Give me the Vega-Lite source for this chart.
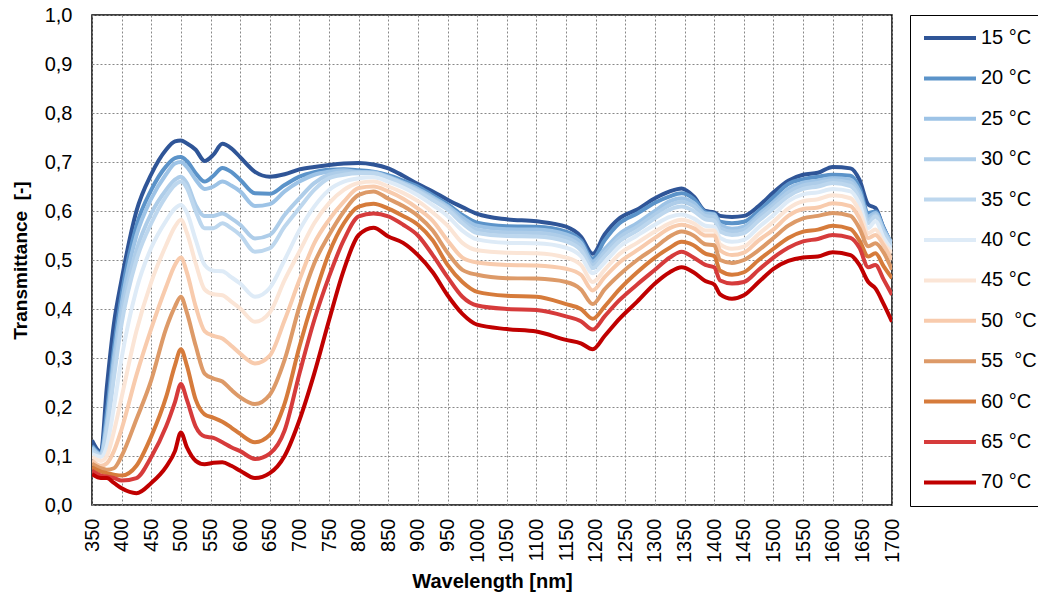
{
"$schema": "https://vega.github.io/schema/vega-lite/v6.json",
"width": 800, "height": 490,
"autosize": {"type": "none"},
"padding": {"left": 92, "top": 15, "right": 146, "bottom": 96},
"background": "white",
"config": {"font": "Liberation Sans", "view": {"stroke": "black", "strokeWidth": 1.5}},
"data": {"values": [
{"s":"15 °C","w":350,"t":0.132},{"s":"15 °C","w":365,"t":0.108},{"s":"15 °C","w":375,"t":0.24},{"s":"15 °C","w":387,"t":0.37},{"s":"15 °C","w":400,"t":0.46},{"s":"15 °C","w":425,"t":0.60},{"s":"15 °C","w":450,"t":0.675},{"s":"15 °C","w":475,"t":0.725},{"s":"15 °C","w":490,"t":0.742},{"s":"15 °C","w":500,"t":0.744},{"s":"15 °C","w":510,"t":0.738},{"s":"15 °C","w":525,"t":0.725},{"s":"15 °C","w":540,"t":0.702},{"s":"15 °C","w":555,"t":0.715},{"s":"15 °C","w":570,"t":0.737},{"s":"15 °C","w":585,"t":0.728},{"s":"15 °C","w":600,"t":0.71},{"s":"15 °C","w":625,"t":0.68},{"s":"15 °C","w":650,"t":0.67},{"s":"15 °C","w":675,"t":0.675},{"s":"15 °C","w":700,"t":0.685},{"s":"15 °C","w":725,"t":0.69},{"s":"15 °C","w":750,"t":0.694},{"s":"15 °C","w":775,"t":0.697},{"s":"15 °C","w":800,"t":0.698},{"s":"15 °C","w":825,"t":0.695},{"s":"15 °C","w":850,"t":0.687},{"s":"15 °C","w":875,"t":0.672},{"s":"15 °C","w":900,"t":0.655},{"s":"15 °C","w":925,"t":0.64},{"s":"15 °C","w":950,"t":0.623},{"s":"15 °C","w":975,"t":0.608},{"s":"15 °C","w":1000,"t":0.594},{"s":"15 °C","w":1050,"t":0.583},{"s":"15 °C","w":1100,"t":0.579},{"s":"15 °C","w":1150,"t":0.568},{"s":"15 °C","w":1175,"t":0.548},{"s":"15 °C","w":1195,"t":0.513},{"s":"15 °C","w":1215,"t":0.552},{"s":"15 °C","w":1240,"t":0.585},{"s":"15 °C","w":1270,"t":0.603},{"s":"15 °C","w":1300,"t":0.626},{"s":"15 °C","w":1325,"t":0.64},{"s":"15 °C","w":1345,"t":0.646},{"s":"15 °C","w":1365,"t":0.63},{"s":"15 °C","w":1385,"t":0.60},{"s":"15 °C","w":1400,"t":0.597},{"s":"15 °C","w":1410,"t":0.59},{"s":"15 °C","w":1430,"t":0.588},{"s":"15 °C","w":1450,"t":0.59},{"s":"15 °C","w":1475,"t":0.61},{"s":"15 °C","w":1500,"t":0.638},{"s":"15 °C","w":1525,"t":0.662},{"s":"15 °C","w":1550,"t":0.674},{"s":"15 °C","w":1575,"t":0.678},{"s":"15 °C","w":1600,"t":0.69},{"s":"15 °C","w":1630,"t":0.687},{"s":"15 °C","w":1645,"t":0.664},{"s":"15 °C","w":1660,"t":0.613},{"s":"15 °C","w":1672,"t":0.606},{"s":"15 °C","w":1686,"t":0.565},{"s":"15 °C","w":1700,"t":0.531},
{"s":"20 °C","w":350,"t":0.121},{"s":"20 °C","w":365,"t":0.105},{"s":"20 °C","w":375,"t":0.19},{"s":"20 °C","w":387,"t":0.32},{"s":"20 °C","w":400,"t":0.43},{"s":"20 °C","w":425,"t":0.57},{"s":"20 °C","w":450,"t":0.643},{"s":"20 °C","w":475,"t":0.691},{"s":"20 °C","w":490,"t":0.708},{"s":"20 °C","w":500,"t":0.71},{"s":"20 °C","w":510,"t":0.702},{"s":"20 °C","w":525,"t":0.677},{"s":"20 °C","w":540,"t":0.66},{"s":"20 °C","w":555,"t":0.672},{"s":"20 °C","w":570,"t":0.688},{"s":"20 °C","w":585,"t":0.68},{"s":"20 °C","w":600,"t":0.664},{"s":"20 °C","w":625,"t":0.636},{"s":"20 °C","w":650,"t":0.635},{"s":"20 °C","w":675,"t":0.653},{"s":"20 °C","w":700,"t":0.67},{"s":"20 °C","w":725,"t":0.679},{"s":"20 °C","w":750,"t":0.684},{"s":"20 °C","w":775,"t":0.685},{"s":"20 °C","w":800,"t":0.683},{"s":"20 °C","w":825,"t":0.68},{"s":"20 °C","w":850,"t":0.673},{"s":"20 °C","w":875,"t":0.662},{"s":"20 °C","w":900,"t":0.65},{"s":"20 °C","w":925,"t":0.632},{"s":"20 °C","w":950,"t":0.614},{"s":"20 °C","w":975,"t":0.592},{"s":"20 °C","w":1000,"t":0.576},{"s":"20 °C","w":1050,"t":0.569},{"s":"20 °C","w":1100,"t":0.568},{"s":"20 °C","w":1150,"t":0.558},{"s":"20 °C","w":1175,"t":0.54},{"s":"20 °C","w":1195,"t":0.503},{"s":"20 °C","w":1215,"t":0.54},{"s":"20 °C","w":1240,"t":0.575},{"s":"20 °C","w":1270,"t":0.595},{"s":"20 °C","w":1300,"t":0.617},{"s":"20 °C","w":1325,"t":0.63},{"s":"20 °C","w":1345,"t":0.636},{"s":"20 °C","w":1365,"t":0.625},{"s":"20 °C","w":1385,"t":0.598},{"s":"20 °C","w":1400,"t":0.594},{"s":"20 °C","w":1410,"t":0.578},{"s":"20 °C","w":1430,"t":0.575},{"s":"20 °C","w":1450,"t":0.578},{"s":"20 °C","w":1475,"t":0.6},{"s":"20 °C","w":1500,"t":0.628},{"s":"20 °C","w":1525,"t":0.655},{"s":"20 °C","w":1550,"t":0.665},{"s":"20 °C","w":1575,"t":0.67},{"s":"20 °C","w":1600,"t":0.674},{"s":"20 °C","w":1630,"t":0.672},{"s":"20 °C","w":1645,"t":0.648},{"s":"20 °C","w":1660,"t":0.596},{"s":"20 °C","w":1672,"t":0.599},{"s":"20 °C","w":1686,"t":0.565},{"s":"20 °C","w":1700,"t":0.528},
{"s":"25 °C","w":350,"t":0.118},{"s":"25 °C","w":365,"t":0.103},{"s":"25 °C","w":375,"t":0.17},{"s":"25 °C","w":387,"t":0.30},{"s":"25 °C","w":400,"t":0.41},{"s":"25 °C","w":425,"t":0.55},{"s":"25 °C","w":450,"t":0.625},{"s":"25 °C","w":475,"t":0.675},{"s":"25 °C","w":490,"t":0.697},{"s":"25 °C","w":500,"t":0.70},{"s":"25 °C","w":510,"t":0.69},{"s":"25 °C","w":525,"t":0.664},{"s":"25 °C","w":540,"t":0.645},{"s":"25 °C","w":555,"t":0.65},{"s":"25 °C","w":570,"t":0.66},{"s":"25 °C","w":585,"t":0.652},{"s":"25 °C","w":600,"t":0.64},{"s":"25 °C","w":625,"t":0.61},{"s":"25 °C","w":650,"t":0.614},{"s":"25 °C","w":675,"t":0.64},{"s":"25 °C","w":700,"t":0.66},{"s":"25 °C","w":725,"t":0.674},{"s":"25 °C","w":750,"t":0.68},{"s":"25 °C","w":775,"t":0.683},{"s":"25 °C","w":800,"t":0.68},{"s":"25 °C","w":825,"t":0.679},{"s":"25 °C","w":850,"t":0.67},{"s":"25 °C","w":875,"t":0.658},{"s":"25 °C","w":900,"t":0.645},{"s":"25 °C","w":925,"t":0.628},{"s":"25 °C","w":950,"t":0.61},{"s":"25 °C","w":975,"t":0.587},{"s":"25 °C","w":1000,"t":0.57},{"s":"25 °C","w":1050,"t":0.563},{"s":"25 °C","w":1100,"t":0.562},{"s":"25 °C","w":1150,"t":0.552},{"s":"25 °C","w":1175,"t":0.535},{"s":"25 °C","w":1195,"t":0.497},{"s":"25 °C","w":1215,"t":0.522},{"s":"25 °C","w":1240,"t":0.553},{"s":"25 °C","w":1270,"t":0.575},{"s":"25 °C","w":1300,"t":0.6},{"s":"25 °C","w":1325,"t":0.62},{"s":"25 °C","w":1345,"t":0.626},{"s":"25 °C","w":1365,"t":0.617},{"s":"25 °C","w":1385,"t":0.595},{"s":"25 °C","w":1400,"t":0.593},{"s":"25 °C","w":1410,"t":0.572},{"s":"25 °C","w":1430,"t":0.564},{"s":"25 °C","w":1450,"t":0.568},{"s":"25 °C","w":1475,"t":0.593},{"s":"25 °C","w":1500,"t":0.618},{"s":"25 °C","w":1525,"t":0.645},{"s":"25 °C","w":1550,"t":0.658},{"s":"25 °C","w":1575,"t":0.662},{"s":"25 °C","w":1600,"t":0.667},{"s":"25 °C","w":1630,"t":0.664},{"s":"25 °C","w":1645,"t":0.64},{"s":"25 °C","w":1660,"t":0.589},{"s":"25 °C","w":1672,"t":0.596},{"s":"25 °C","w":1686,"t":0.562},{"s":"25 °C","w":1700,"t":0.534},
{"s":"30 °C","w":350,"t":0.115},{"s":"30 °C","w":365,"t":0.102},{"s":"30 °C","w":375,"t":0.16},{"s":"30 °C","w":387,"t":0.28},{"s":"30 °C","w":400,"t":0.39},{"s":"30 °C","w":425,"t":0.52},{"s":"30 °C","w":450,"t":0.595},{"s":"30 °C","w":475,"t":0.643},{"s":"30 °C","w":490,"t":0.664},{"s":"30 °C","w":500,"t":0.67},{"s":"30 °C","w":510,"t":0.657},{"s":"30 °C","w":525,"t":0.612},{"s":"30 °C","w":540,"t":0.59},{"s":"30 °C","w":555,"t":0.59},{"s":"30 °C","w":570,"t":0.595},{"s":"30 °C","w":585,"t":0.585},{"s":"30 °C","w":600,"t":0.572},{"s":"30 °C","w":625,"t":0.544},{"s":"30 °C","w":650,"t":0.551},{"s":"30 °C","w":675,"t":0.592},{"s":"30 °C","w":700,"t":0.626},{"s":"30 °C","w":725,"t":0.657},{"s":"30 °C","w":750,"t":0.674},{"s":"30 °C","w":775,"t":0.679},{"s":"30 °C","w":800,"t":0.679},{"s":"30 °C","w":825,"t":0.677},{"s":"30 °C","w":850,"t":0.668},{"s":"30 °C","w":875,"t":0.656},{"s":"30 °C","w":900,"t":0.642},{"s":"30 °C","w":925,"t":0.625},{"s":"30 °C","w":950,"t":0.607},{"s":"30 °C","w":975,"t":0.58},{"s":"30 °C","w":1000,"t":0.562},{"s":"30 °C","w":1050,"t":0.556},{"s":"30 °C","w":1100,"t":0.555},{"s":"30 °C","w":1150,"t":0.545},{"s":"30 °C","w":1175,"t":0.527},{"s":"30 °C","w":1195,"t":0.49},{"s":"30 °C","w":1215,"t":0.515},{"s":"30 °C","w":1240,"t":0.546},{"s":"30 °C","w":1270,"t":0.568},{"s":"30 °C","w":1300,"t":0.593},{"s":"30 °C","w":1325,"t":0.612},{"s":"30 °C","w":1345,"t":0.619},{"s":"30 °C","w":1365,"t":0.61},{"s":"30 °C","w":1385,"t":0.59},{"s":"30 °C","w":1400,"t":0.588},{"s":"30 °C","w":1410,"t":0.565},{"s":"30 °C","w":1430,"t":0.558},{"s":"30 °C","w":1450,"t":0.562},{"s":"30 °C","w":1475,"t":0.587},{"s":"30 °C","w":1500,"t":0.612},{"s":"30 °C","w":1525,"t":0.638},{"s":"30 °C","w":1550,"t":0.652},{"s":"30 °C","w":1575,"t":0.657},{"s":"30 °C","w":1600,"t":0.663},{"s":"30 °C","w":1630,"t":0.658},{"s":"30 °C","w":1645,"t":0.632},{"s":"30 °C","w":1660,"t":0.582},{"s":"30 °C","w":1672,"t":0.592},{"s":"30 °C","w":1686,"t":0.558},{"s":"30 °C","w":1700,"t":0.531},
{"s":"35 °C","w":350,"t":0.11},{"s":"35 °C","w":365,"t":0.1},{"s":"35 °C","w":375,"t":0.15},{"s":"35 °C","w":387,"t":0.26},{"s":"35 °C","w":400,"t":0.37},{"s":"35 °C","w":425,"t":0.50},{"s":"35 °C","w":450,"t":0.575},{"s":"35 °C","w":475,"t":0.63},{"s":"35 °C","w":490,"t":0.653},{"s":"35 °C","w":500,"t":0.66},{"s":"35 °C","w":510,"t":0.647},{"s":"35 °C","w":525,"t":0.599},{"s":"35 °C","w":540,"t":0.565},{"s":"35 °C","w":555,"t":0.565},{"s":"35 °C","w":570,"t":0.575},{"s":"35 °C","w":585,"t":0.565},{"s":"35 °C","w":600,"t":0.551},{"s":"35 °C","w":625,"t":0.517},{"s":"35 °C","w":650,"t":0.524},{"s":"35 °C","w":675,"t":0.568},{"s":"35 °C","w":700,"t":0.606},{"s":"35 °C","w":725,"t":0.643},{"s":"35 °C","w":750,"t":0.667},{"s":"35 °C","w":775,"t":0.674},{"s":"35 °C","w":800,"t":0.677},{"s":"35 °C","w":825,"t":0.677},{"s":"35 °C","w":850,"t":0.668},{"s":"35 °C","w":875,"t":0.655},{"s":"35 °C","w":900,"t":0.64},{"s":"35 °C","w":925,"t":0.622},{"s":"35 °C","w":950,"t":0.603},{"s":"35 °C","w":975,"t":0.575},{"s":"35 °C","w":1000,"t":0.555},{"s":"35 °C","w":1050,"t":0.549},{"s":"35 °C","w":1100,"t":0.548},{"s":"35 °C","w":1150,"t":0.538},{"s":"35 °C","w":1175,"t":0.52},{"s":"35 °C","w":1195,"t":0.483},{"s":"35 °C","w":1215,"t":0.507},{"s":"35 °C","w":1240,"t":0.538},{"s":"35 °C","w":1270,"t":0.56},{"s":"35 °C","w":1300,"t":0.585},{"s":"35 °C","w":1325,"t":0.603},{"s":"35 °C","w":1345,"t":0.609},{"s":"35 °C","w":1365,"t":0.6},{"s":"35 °C","w":1385,"t":0.583},{"s":"35 °C","w":1400,"t":0.58},{"s":"35 °C","w":1410,"t":0.558},{"s":"35 °C","w":1430,"t":0.551},{"s":"35 °C","w":1450,"t":0.555},{"s":"35 °C","w":1475,"t":0.58},{"s":"35 °C","w":1500,"t":0.605},{"s":"35 °C","w":1525,"t":0.63},{"s":"35 °C","w":1550,"t":0.645},{"s":"35 °C","w":1575,"t":0.65},{"s":"35 °C","w":1600,"t":0.657},{"s":"35 °C","w":1630,"t":0.651},{"s":"35 °C","w":1645,"t":0.625},{"s":"35 °C","w":1660,"t":0.575},{"s":"35 °C","w":1672,"t":0.589},{"s":"35 °C","w":1686,"t":0.555},{"s":"35 °C","w":1700,"t":0.528},
{"s":"40 °C","w":350,"t":0.104},{"s":"40 °C","w":365,"t":0.098},{"s":"40 °C","w":375,"t":0.12},{"s":"40 °C","w":387,"t":0.2},{"s":"40 °C","w":400,"t":0.30},{"s":"40 °C","w":425,"t":0.44},{"s":"40 °C","w":450,"t":0.525},{"s":"40 °C","w":475,"t":0.58},{"s":"40 °C","w":490,"t":0.605},{"s":"40 °C","w":500,"t":0.612},{"s":"40 °C","w":510,"t":0.597},{"s":"40 °C","w":525,"t":0.541},{"s":"40 °C","w":540,"t":0.49},{"s":"40 °C","w":555,"t":0.478},{"s":"40 °C","w":570,"t":0.477},{"s":"40 °C","w":585,"t":0.465},{"s":"40 °C","w":600,"t":0.452},{"s":"40 °C","w":625,"t":0.425},{"s":"40 °C","w":650,"t":0.443},{"s":"40 °C","w":675,"t":0.5},{"s":"40 °C","w":700,"t":0.561},{"s":"40 °C","w":725,"t":0.609},{"s":"40 °C","w":750,"t":0.643},{"s":"40 °C","w":775,"t":0.66},{"s":"40 °C","w":800,"t":0.667},{"s":"40 °C","w":825,"t":0.669},{"s":"40 °C","w":850,"t":0.66},{"s":"40 °C","w":875,"t":0.648},{"s":"40 °C","w":900,"t":0.632},{"s":"40 °C","w":925,"t":0.612},{"s":"40 °C","w":950,"t":0.59},{"s":"40 °C","w":975,"t":0.56},{"s":"40 °C","w":1000,"t":0.542},{"s":"40 °C","w":1050,"t":0.535},{"s":"40 °C","w":1100,"t":0.534},{"s":"40 °C","w":1150,"t":0.525},{"s":"40 °C","w":1175,"t":0.508},{"s":"40 °C","w":1195,"t":0.473},{"s":"40 °C","w":1215,"t":0.495},{"s":"40 °C","w":1240,"t":0.527},{"s":"40 °C","w":1270,"t":0.55},{"s":"40 °C","w":1300,"t":0.572},{"s":"40 °C","w":1325,"t":0.588},{"s":"40 °C","w":1345,"t":0.593},{"s":"40 °C","w":1365,"t":0.585},{"s":"40 °C","w":1385,"t":0.57},{"s":"40 °C","w":1400,"t":0.568},{"s":"40 °C","w":1410,"t":0.545},{"s":"40 °C","w":1430,"t":0.537},{"s":"40 °C","w":1450,"t":0.541},{"s":"40 °C","w":1475,"t":0.567},{"s":"40 °C","w":1500,"t":0.592},{"s":"40 °C","w":1525,"t":0.62},{"s":"40 °C","w":1550,"t":0.634},{"s":"40 °C","w":1575,"t":0.638},{"s":"40 °C","w":1600,"t":0.645},{"s":"40 °C","w":1630,"t":0.64},{"s":"40 °C","w":1645,"t":0.615},{"s":"40 °C","w":1660,"t":0.565},{"s":"40 °C","w":1672,"t":0.579},{"s":"40 °C","w":1686,"t":0.545},{"s":"40 °C","w":1700,"t":0.52},
{"s":"45 °C","w":350,"t":0.098},{"s":"45 °C","w":365,"t":0.09},{"s":"45 °C","w":375,"t":0.1},{"s":"45 °C","w":387,"t":0.15},{"s":"45 °C","w":400,"t":0.22},{"s":"45 °C","w":425,"t":0.355},{"s":"45 °C","w":450,"t":0.455},{"s":"45 °C","w":475,"t":0.53},{"s":"45 °C","w":490,"t":0.568},{"s":"45 °C","w":500,"t":0.582},{"s":"45 °C","w":510,"t":0.556},{"s":"45 °C","w":525,"t":0.493},{"s":"45 °C","w":540,"t":0.44},{"s":"45 °C","w":555,"t":0.43},{"s":"45 °C","w":570,"t":0.428},{"s":"45 °C","w":585,"t":0.415},{"s":"45 °C","w":600,"t":0.401},{"s":"45 °C","w":625,"t":0.374},{"s":"45 °C","w":650,"t":0.393},{"s":"45 °C","w":675,"t":0.459},{"s":"45 °C","w":700,"t":0.517},{"s":"45 °C","w":725,"t":0.575},{"s":"45 °C","w":750,"t":0.616},{"s":"45 °C","w":775,"t":0.643},{"s":"45 °C","w":800,"t":0.657},{"s":"45 °C","w":825,"t":0.66},{"s":"45 °C","w":850,"t":0.65},{"s":"45 °C","w":875,"t":0.637},{"s":"45 °C","w":900,"t":0.62},{"s":"45 °C","w":925,"t":0.597},{"s":"45 °C","w":950,"t":0.57},{"s":"45 °C","w":975,"t":0.535},{"s":"45 °C","w":1000,"t":0.52},{"s":"45 °C","w":1050,"t":0.515},{"s":"45 °C","w":1100,"t":0.514},{"s":"45 °C","w":1150,"t":0.505},{"s":"45 °C","w":1175,"t":0.49},{"s":"45 °C","w":1195,"t":0.455},{"s":"45 °C","w":1215,"t":0.48},{"s":"45 °C","w":1240,"t":0.512},{"s":"45 °C","w":1270,"t":0.535},{"s":"45 °C","w":1300,"t":0.558},{"s":"45 °C","w":1325,"t":0.575},{"s":"45 °C","w":1345,"t":0.582},{"s":"45 °C","w":1365,"t":0.575},{"s":"45 °C","w":1385,"t":0.56},{"s":"45 °C","w":1400,"t":0.56},{"s":"45 °C","w":1410,"t":0.532},{"s":"45 °C","w":1430,"t":0.523},{"s":"45 °C","w":1450,"t":0.527},{"s":"45 °C","w":1475,"t":0.553},{"s":"45 °C","w":1500,"t":0.578},{"s":"45 °C","w":1525,"t":0.605},{"s":"45 °C","w":1550,"t":0.62},{"s":"45 °C","w":1575,"t":0.624},{"s":"45 °C","w":1600,"t":0.632},{"s":"45 °C","w":1630,"t":0.626},{"s":"45 °C","w":1645,"t":0.6},{"s":"45 °C","w":1660,"t":0.555},{"s":"45 °C","w":1672,"t":0.562},{"s":"45 °C","w":1686,"t":0.534},{"s":"45 °C","w":1700,"t":0.514},
{"s":"50\u00a0 °C","w":350,"t":0.091},{"s":"50\u00a0 °C","w":365,"t":0.08},{"s":"50\u00a0 °C","w":375,"t":0.085},{"s":"50\u00a0 °C","w":387,"t":0.11},{"s":"50\u00a0 °C","w":400,"t":0.155},{"s":"50\u00a0 °C","w":425,"t":0.265},{"s":"50\u00a0 °C","w":450,"t":0.36},{"s":"50\u00a0 °C","w":475,"t":0.445},{"s":"50\u00a0 °C","w":490,"t":0.49},{"s":"50\u00a0 °C","w":500,"t":0.505},{"s":"50\u00a0 °C","w":510,"t":0.475},{"s":"50\u00a0 °C","w":525,"t":0.405},{"s":"50\u00a0 °C","w":540,"t":0.355},{"s":"50\u00a0 °C","w":555,"t":0.345},{"s":"50\u00a0 °C","w":570,"t":0.34},{"s":"50\u00a0 °C","w":585,"t":0.325},{"s":"50\u00a0 °C","w":600,"t":0.309},{"s":"50\u00a0 °C","w":625,"t":0.289},{"s":"50\u00a0 °C","w":650,"t":0.305},{"s":"50\u00a0 °C","w":675,"t":0.377},{"s":"50\u00a0 °C","w":700,"t":0.459},{"s":"50\u00a0 °C","w":725,"t":0.534},{"s":"50\u00a0 °C","w":750,"t":0.582},{"s":"50\u00a0 °C","w":775,"t":0.619},{"s":"50\u00a0 °C","w":800,"t":0.647},{"s":"50\u00a0 °C","w":825,"t":0.65},{"s":"50\u00a0 °C","w":850,"t":0.64},{"s":"50\u00a0 °C","w":875,"t":0.625},{"s":"50\u00a0 °C","w":900,"t":0.605},{"s":"50\u00a0 °C","w":925,"t":0.58},{"s":"50\u00a0 °C","w":950,"t":0.54},{"s":"50\u00a0 °C","w":975,"t":0.505},{"s":"50\u00a0 °C","w":1000,"t":0.495},{"s":"50\u00a0 °C","w":1050,"t":0.49},{"s":"50\u00a0 °C","w":1100,"t":0.489},{"s":"50\u00a0 °C","w":1150,"t":0.482},{"s":"50\u00a0 °C","w":1175,"t":0.47},{"s":"50\u00a0 °C","w":1195,"t":0.438},{"s":"50\u00a0 °C","w":1215,"t":0.465},{"s":"50\u00a0 °C","w":1240,"t":0.495},{"s":"50\u00a0 °C","w":1270,"t":0.52},{"s":"50\u00a0 °C","w":1300,"t":0.545},{"s":"50\u00a0 °C","w":1325,"t":0.565},{"s":"50\u00a0 °C","w":1345,"t":0.572},{"s":"50\u00a0 °C","w":1365,"t":0.565},{"s":"50\u00a0 °C","w":1385,"t":0.55},{"s":"50\u00a0 °C","w":1400,"t":0.55},{"s":"50\u00a0 °C","w":1410,"t":0.52},{"s":"50\u00a0 °C","w":1430,"t":0.51},{"s":"50\u00a0 °C","w":1450,"t":0.515},{"s":"50\u00a0 °C","w":1475,"t":0.54},{"s":"50\u00a0 °C","w":1500,"t":0.562},{"s":"50\u00a0 °C","w":1525,"t":0.59},{"s":"50\u00a0 °C","w":1550,"t":0.604},{"s":"50\u00a0 °C","w":1575,"t":0.607},{"s":"50\u00a0 °C","w":1600,"t":0.616},{"s":"50\u00a0 °C","w":1630,"t":0.61},{"s":"50\u00a0 °C","w":1645,"t":0.585},{"s":"50\u00a0 °C","w":1660,"t":0.545},{"s":"50\u00a0 °C","w":1672,"t":0.551},{"s":"50\u00a0 °C","w":1686,"t":0.53},{"s":"50\u00a0 °C","w":1700,"t":0.5},
{"s":"55\u00a0 °C","w":350,"t":0.084},{"s":"55\u00a0 °C","w":365,"t":0.075},{"s":"55\u00a0 °C","w":375,"t":0.072},{"s":"55\u00a0 °C","w":387,"t":0.075},{"s":"55\u00a0 °C","w":400,"t":0.10},{"s":"55\u00a0 °C","w":425,"t":0.175},{"s":"55\u00a0 °C","w":450,"t":0.255},{"s":"55\u00a0 °C","w":475,"t":0.36},{"s":"55\u00a0 °C","w":490,"t":0.405},{"s":"55\u00a0 °C","w":500,"t":0.425},{"s":"55\u00a0 °C","w":510,"t":0.393},{"s":"55\u00a0 °C","w":525,"t":0.325},{"s":"55\u00a0 °C","w":540,"t":0.268},{"s":"55\u00a0 °C","w":555,"t":0.258},{"s":"55\u00a0 °C","w":570,"t":0.252},{"s":"55\u00a0 °C","w":585,"t":0.235},{"s":"55\u00a0 °C","w":600,"t":0.22},{"s":"55\u00a0 °C","w":625,"t":0.206},{"s":"55\u00a0 °C","w":650,"t":0.225},{"s":"55\u00a0 °C","w":675,"t":0.296},{"s":"55\u00a0 °C","w":700,"t":0.405},{"s":"55\u00a0 °C","w":725,"t":0.493},{"s":"55\u00a0 °C","w":750,"t":0.551},{"s":"55\u00a0 °C","w":775,"t":0.599},{"s":"55\u00a0 °C","w":800,"t":0.633},{"s":"55\u00a0 °C","w":825,"t":0.64},{"s":"55\u00a0 °C","w":850,"t":0.625},{"s":"55\u00a0 °C","w":875,"t":0.61},{"s":"55\u00a0 °C","w":900,"t":0.59},{"s":"55\u00a0 °C","w":925,"t":0.56},{"s":"55\u00a0 °C","w":950,"t":0.515},{"s":"55\u00a0 °C","w":975,"t":0.48},{"s":"55\u00a0 °C","w":1000,"t":0.47},{"s":"55\u00a0 °C","w":1050,"t":0.463},{"s":"55\u00a0 °C","w":1100,"t":0.462},{"s":"55\u00a0 °C","w":1150,"t":0.455},{"s":"55\u00a0 °C","w":1175,"t":0.44},{"s":"55\u00a0 °C","w":1195,"t":0.41},{"s":"55\u00a0 °C","w":1215,"t":0.44},{"s":"55\u00a0 °C","w":1240,"t":0.47},{"s":"55\u00a0 °C","w":1270,"t":0.50},{"s":"55\u00a0 °C","w":1300,"t":0.525},{"s":"55\u00a0 °C","w":1325,"t":0.548},{"s":"55\u00a0 °C","w":1345,"t":0.558},{"s":"55\u00a0 °C","w":1365,"t":0.55},{"s":"55\u00a0 °C","w":1385,"t":0.532},{"s":"55\u00a0 °C","w":1400,"t":0.53},{"s":"55\u00a0 °C","w":1410,"t":0.50},{"s":"55\u00a0 °C","w":1430,"t":0.494},{"s":"55\u00a0 °C","w":1450,"t":0.50},{"s":"55\u00a0 °C","w":1475,"t":0.52},{"s":"55\u00a0 °C","w":1500,"t":0.545},{"s":"55\u00a0 °C","w":1525,"t":0.57},{"s":"55\u00a0 °C","w":1550,"t":0.585},{"s":"55\u00a0 °C","w":1575,"t":0.59},{"s":"55\u00a0 °C","w":1600,"t":0.596},{"s":"55\u00a0 °C","w":1630,"t":0.59},{"s":"55\u00a0 °C","w":1645,"t":0.565},{"s":"55\u00a0 °C","w":1660,"t":0.528},{"s":"55\u00a0 °C","w":1672,"t":0.534},{"s":"55\u00a0 °C","w":1686,"t":0.515},{"s":"55\u00a0 °C","w":1700,"t":0.48},
{"s":"60 °C","w":350,"t":0.077},{"s":"60 °C","w":365,"t":0.068},{"s":"60 °C","w":375,"t":0.065},{"s":"60 °C","w":387,"t":0.062},{"s":"60 °C","w":400,"t":0.06},{"s":"60 °C","w":425,"t":0.08},{"s":"60 °C","w":450,"t":0.14},{"s":"60 °C","w":475,"t":0.22},{"s":"60 °C","w":490,"t":0.285},{"s":"60 °C","w":500,"t":0.318},{"s":"60 °C","w":510,"t":0.285},{"s":"60 °C","w":525,"t":0.215},{"s":"60 °C","w":540,"t":0.185},{"s":"60 °C","w":555,"t":0.178},{"s":"60 °C","w":570,"t":0.17},{"s":"60 °C","w":585,"t":0.158},{"s":"60 °C","w":600,"t":0.145},{"s":"60 °C","w":625,"t":0.128},{"s":"60 °C","w":650,"t":0.143},{"s":"60 °C","w":675,"t":0.207},{"s":"60 °C","w":700,"t":0.323},{"s":"60 °C","w":725,"t":0.425},{"s":"60 °C","w":750,"t":0.514},{"s":"60 °C","w":775,"t":0.575},{"s":"60 °C","w":800,"t":0.609},{"s":"60 °C","w":825,"t":0.615},{"s":"60 °C","w":850,"t":0.605},{"s":"60 °C","w":875,"t":0.59},{"s":"60 °C","w":900,"t":0.572},{"s":"60 °C","w":925,"t":0.54},{"s":"60 °C","w":950,"t":0.49},{"s":"60 °C","w":975,"t":0.455},{"s":"60 °C","w":1000,"t":0.435},{"s":"60 °C","w":1050,"t":0.427},{"s":"60 °C","w":1100,"t":0.425},{"s":"60 °C","w":1150,"t":0.41},{"s":"60 °C","w":1175,"t":0.40},{"s":"60 °C","w":1195,"t":0.38},{"s":"60 °C","w":1215,"t":0.405},{"s":"60 °C","w":1240,"t":0.44},{"s":"60 °C","w":1270,"t":0.475},{"s":"60 °C","w":1300,"t":0.505},{"s":"60 °C","w":1325,"t":0.525},{"s":"60 °C","w":1345,"t":0.537},{"s":"60 °C","w":1365,"t":0.53},{"s":"60 °C","w":1385,"t":0.513},{"s":"60 °C","w":1400,"t":0.508},{"s":"60 °C","w":1410,"t":0.478},{"s":"60 °C","w":1430,"t":0.47},{"s":"60 °C","w":1450,"t":0.475},{"s":"60 °C","w":1475,"t":0.50},{"s":"60 °C","w":1500,"t":0.523},{"s":"60 °C","w":1525,"t":0.545},{"s":"60 °C","w":1550,"t":0.558},{"s":"60 °C","w":1575,"t":0.562},{"s":"60 °C","w":1600,"t":0.57},{"s":"60 °C","w":1630,"t":0.563},{"s":"60 °C","w":1645,"t":0.54},{"s":"60 °C","w":1660,"t":0.507},{"s":"60 °C","w":1672,"t":0.514},{"s":"60 °C","w":1686,"t":0.487},{"s":"60 °C","w":1700,"t":0.463},
{"s":"65 °C","w":350,"t":0.07},{"s":"65 °C","w":365,"t":0.06},{"s":"65 °C","w":375,"t":0.058},{"s":"65 °C","w":387,"t":0.055},{"s":"65 °C","w":400,"t":0.05},{"s":"65 °C","w":425,"t":0.055},{"s":"65 °C","w":450,"t":0.098},{"s":"65 °C","w":475,"t":0.16},{"s":"65 °C","w":490,"t":0.21},{"s":"65 °C","w":500,"t":0.247},{"s":"65 °C","w":510,"t":0.215},{"s":"65 °C","w":525,"t":0.16},{"s":"65 °C","w":540,"t":0.14},{"s":"65 °C","w":555,"t":0.137},{"s":"65 °C","w":570,"t":0.128},{"s":"65 °C","w":585,"t":0.118},{"s":"65 °C","w":600,"t":0.11},{"s":"65 °C","w":625,"t":0.094},{"s":"65 °C","w":650,"t":0.105},{"s":"65 °C","w":675,"t":0.152},{"s":"65 °C","w":700,"t":0.268},{"s":"65 °C","w":725,"t":0.377},{"s":"65 °C","w":750,"t":0.466},{"s":"65 °C","w":775,"t":0.541},{"s":"65 °C","w":800,"t":0.589},{"s":"65 °C","w":825,"t":0.595},{"s":"65 °C","w":850,"t":0.589},{"s":"65 °C","w":875,"t":0.572},{"s":"65 °C","w":900,"t":0.55},{"s":"65 °C","w":925,"t":0.51},{"s":"65 °C","w":950,"t":0.465},{"s":"65 °C","w":975,"t":0.425},{"s":"65 °C","w":1000,"t":0.407},{"s":"65 °C","w":1050,"t":0.40},{"s":"65 °C","w":1100,"t":0.398},{"s":"65 °C","w":1150,"t":0.385},{"s":"65 °C","w":1175,"t":0.375},{"s":"65 °C","w":1195,"t":0.358},{"s":"65 °C","w":1215,"t":0.385},{"s":"65 °C","w":1240,"t":0.418},{"s":"65 °C","w":1270,"t":0.45},{"s":"65 °C","w":1300,"t":0.48},{"s":"65 °C","w":1325,"t":0.505},{"s":"65 °C","w":1345,"t":0.517},{"s":"65 °C","w":1365,"t":0.505},{"s":"65 °C","w":1385,"t":0.49},{"s":"65 °C","w":1400,"t":0.485},{"s":"65 °C","w":1410,"t":0.458},{"s":"65 °C","w":1430,"t":0.452},{"s":"65 °C","w":1450,"t":0.455},{"s":"65 °C","w":1475,"t":0.48},{"s":"65 °C","w":1500,"t":0.505},{"s":"65 °C","w":1525,"t":0.525},{"s":"65 °C","w":1550,"t":0.538},{"s":"65 °C","w":1575,"t":0.543},{"s":"65 °C","w":1600,"t":0.551},{"s":"65 °C","w":1630,"t":0.545},{"s":"65 °C","w":1645,"t":0.525},{"s":"65 °C","w":1660,"t":0.485},{"s":"65 °C","w":1672,"t":0.49},{"s":"65 °C","w":1686,"t":0.46},{"s":"65 °C","w":1700,"t":0.429},
{"s":"70 °C","w":350,"t":0.063},{"s":"70 °C","w":365,"t":0.055},{"s":"70 °C","w":375,"t":0.055},{"s":"70 °C","w":387,"t":0.045},{"s":"70 °C","w":400,"t":0.034},{"s":"70 °C","w":425,"t":0.024},{"s":"70 °C","w":450,"t":0.045},{"s":"70 °C","w":475,"t":0.078},{"s":"70 °C","w":490,"t":0.11},{"s":"70 °C","w":500,"t":0.148},{"s":"70 °C","w":510,"t":0.118},{"s":"70 °C","w":525,"t":0.09},{"s":"70 °C","w":540,"t":0.083},{"s":"70 °C","w":555,"t":0.086},{"s":"70 °C","w":570,"t":0.087},{"s":"70 °C","w":585,"t":0.08},{"s":"70 °C","w":600,"t":0.07},{"s":"70 °C","w":625,"t":0.055},{"s":"70 °C","w":650,"t":0.065},{"s":"70 °C","w":675,"t":0.1},{"s":"70 °C","w":700,"t":0.173},{"s":"70 °C","w":725,"t":0.268},{"s":"70 °C","w":750,"t":0.377},{"s":"70 °C","w":775,"t":0.48},{"s":"70 °C","w":800,"t":0.551},{"s":"70 °C","w":825,"t":0.566},{"s":"70 °C","w":850,"t":0.548},{"s":"70 °C","w":875,"t":0.535},{"s":"70 °C","w":900,"t":0.51},{"s":"70 °C","w":925,"t":0.475},{"s":"70 °C","w":950,"t":0.428},{"s":"70 °C","w":975,"t":0.39},{"s":"70 °C","w":1000,"t":0.368},{"s":"70 °C","w":1050,"t":0.359},{"s":"70 °C","w":1100,"t":0.354},{"s":"70 °C","w":1150,"t":0.337},{"s":"70 °C","w":1175,"t":0.33},{"s":"70 °C","w":1195,"t":0.318},{"s":"70 °C","w":1215,"t":0.345},{"s":"70 °C","w":1240,"t":0.38},{"s":"70 °C","w":1270,"t":0.415},{"s":"70 °C","w":1300,"t":0.452},{"s":"70 °C","w":1325,"t":0.475},{"s":"70 °C","w":1345,"t":0.485},{"s":"70 °C","w":1365,"t":0.475},{"s":"70 °C","w":1385,"t":0.457},{"s":"70 °C","w":1400,"t":0.45},{"s":"70 °C","w":1410,"t":0.43},{"s":"70 °C","w":1430,"t":0.421},{"s":"70 °C","w":1450,"t":0.428},{"s":"70 °C","w":1475,"t":0.455},{"s":"70 °C","w":1500,"t":0.482},{"s":"70 °C","w":1525,"t":0.498},{"s":"70 °C","w":1550,"t":0.505},{"s":"70 °C","w":1575,"t":0.507},{"s":"70 °C","w":1600,"t":0.516},{"s":"70 °C","w":1630,"t":0.51},{"s":"70 °C","w":1645,"t":0.49},{"s":"70 °C","w":1660,"t":0.455},{"s":"70 °C","w":1672,"t":0.442},{"s":"70 °C","w":1686,"t":0.41},{"s":"70 °C","w":1700,"t":0.374}
]},
"mark": {"type": "line", "interpolate": "monotone", "strokeWidth": 4, "clip": true},
"encoding": {
"x": {"field": "w", "type": "quantitative",
 "scale": {"domain": [350, 1700], "nice": false, "zero": false},
 "axis": {"values": [350,400,450,500,550,600,650,700,750,800,850,900,950,1000,1050,1100,1150,1200,1250,1300,1350,1400,1450,1500,1550,1600,1650,1700],
  "format": "d",
  "labelAngle": -90, "labelAlign": "right", "labelBaseline": "middle", "labelFontSize": 20, "labelColor": "black", "labelPadding": 13,
  "ticks": false, "domain": false, "grid": true, "gridDash": [2, 2], "gridColor": "#888888", "gridWidth": 1,
  "title": "Wavelength [nm]", "titleFontSize": 20, "titleFontWeight": "bold", "titleColor": "black", "titlePadding": 9}},
"y": {"field": "t", "type": "quantitative",
 "scale": {"domain": [0, 1], "nice": false},
 "axis": {"values": [0,0.1,0.2,0.3,0.4,0.5,0.6,0.7,0.8,0.9,1.0],
  "labelExpr": "replace(format(datum.value, '.1f'), '.', ',')",
  "labelFontSize": 20, "labelColor": "black", "labelPadding": 20,
  "ticks": false, "domain": false, "grid": true, "gridDash": [2, 2], "gridColor": "#888888", "gridWidth": 1,
  "title": "Transmittance\u00a0 [-]", "titleFontSize": 19, "titleFontWeight": "bold", "titleColor": "black", "titlePadding": 14}},
"color": {"field": "s", "type": "nominal",
 "scale": {"domain": ["15 °C","20 °C","25 °C","30 °C","35 °C","40 °C","45 °C","50\u00a0 °C","55\u00a0 °C","60 °C","65 °C","70 °C"],
  "range": ["#2f5597","#5b93c9","#9dc3e6","#aecde9","#bdd7ee","#deebf7","#fbe5d6","#f8cbad","#dd9a68","#d67b3b","#d63b3b","#c00000"]},
 "legend": {"orient": "none", "legendX": 818, "legendY": 0, "title": null,
  "symbolType": "stroke", "symbolSize": 2704, "symbolStrokeWidth": 4, "clipHeight": 22, "rowPadding": 18.4,
  "labelFontSize": 20, "labelColor": "black", "labelOffset": 3, "padding": 12,
  "strokeColor": "black", "fillColor": "white"}}
}
}
